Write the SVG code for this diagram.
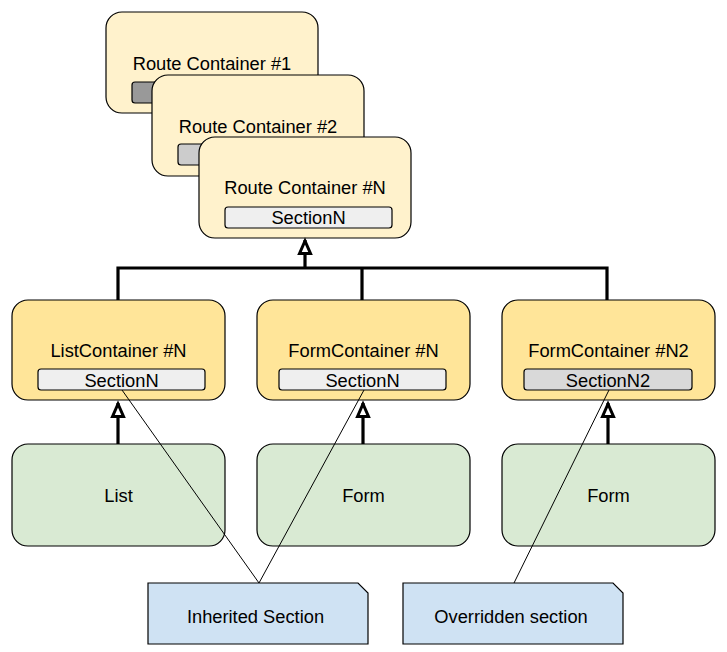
<svg xmlns="http://www.w3.org/2000/svg" width="727" height="652" viewBox="0 0 727 652">
<style>
text{font-family:"Liberation Sans",Arial,sans-serif;font-size:18.3px;fill:#000;text-anchor:middle}
.rc{fill:#fff2cc;stroke:#000;stroke-width:1.2}
.mc{fill:#ffe599;stroke:#000;stroke-width:1.2}
.gc{fill:#d9ead3;stroke:#000;stroke-width:1.2}
.sec{stroke:#000;stroke-width:1.2}
.note{fill:#cfe2f3;stroke:#000;stroke-width:1.2}
.inh{fill:none;stroke:#000;stroke-width:3.2}
.thin{fill:none;stroke:#000;stroke-width:1}
</style>
<defs>
<marker id="tri" markerUnits="userSpaceOnUse" markerWidth="22" markerHeight="18" viewBox="0 0 22 18" refX="17" refY="9" orient="auto" overflow="visible">
<path d="M3.5,3.5 L16,9 L3.5,14.5 Z" fill="#fff" stroke="#000" stroke-width="3" stroke-linejoin="miter"/>
</marker>
</defs>
<g id="route1">
<rect class="rc" x="106" y="12" width="212" height="101" rx="16"/>
<text x="212" y="70">Route Container #1</text>
<rect class="sec" x="132" y="82" width="167" height="21" rx="3" fill="#999999"/>
</g>
<g id="route2">
<rect class="rc" x="152" y="75" width="212" height="101" rx="16"/>
<text x="258" y="133">Route Container #2</text>
<rect class="sec" x="178" y="144" width="167" height="21" rx="3" fill="#cccccc"/>
</g>
<g id="routeN">
<rect class="rc" x="199" y="137" width="212" height="101" rx="16"/>
<text x="305" y="194">Route Container #N</text>
<rect class="sec" x="225" y="207" width="167" height="21" rx="3" fill="#efefef"/>
<text x="308.5" y="224">SectionN</text>
</g>
<g id="listContainer">
<rect class="mc" x="12" y="300" width="213" height="100" rx="16"/>
<text x="118.5" y="357">ListContainer #N</text>
<rect class="sec" x="38" y="369" width="167" height="21" rx="3" fill="#efefef"/>
<text x="121.5" y="387">SectionN</text>
</g>
<g id="formContainer">
<rect class="mc" x="257" y="300" width="213" height="100" rx="16"/>
<text x="363.5" y="357">FormContainer #N</text>
<rect class="sec" x="279" y="369" width="167" height="21" rx="3" fill="#efefef"/>
<text x="362.5" y="387">SectionN</text>
</g>
<g id="formContainerN2">
<rect class="mc" x="502" y="300" width="213" height="100" rx="16"/>
<text x="608.5" y="357">FormContainer #N2</text>
<rect class="sec" x="524" y="369" width="168" height="21" rx="3" fill="#d9d9d9"/>
<text x="608" y="387">SectionN2</text>
</g>
<g id="list">
<rect class="gc" x="12" y="444" width="213" height="102" rx="16"/>
<text x="118.5" y="502">List</text>
</g>
<g id="form1">
<rect class="gc" x="257" y="444" width="213" height="102" rx="16"/>
<text x="363.5" y="502">Form</text>
</g>
<g id="form2">
<rect class="gc" x="502" y="444" width="213" height="102" rx="16"/>
<text x="608.5" y="502">Form</text>
</g>
<g id="connectors">
<path class="inh" d="M118,300 V268 H607 V300 M362,300 V268"/>
<path class="inh" d="M305,268 V240" marker-end="url(#tri)"/>
<path class="inh" d="M118,444 V403" marker-end="url(#tri)"/>
<path class="inh" d="M363,444 V403" marker-end="url(#tri)"/>
<path class="inh" d="M608,444 V403" marker-end="url(#tri)"/>
<path class="thin" d="M122,390 L259,583 L364,390"/>
<path class="thin" d="M609,390 L514,583"/>
</g>
<g id="noteInherited">
<path class="note" d="M148,583 H358 L368,593 V644 H148 Z"/>
<text x="255.5" y="623">Inherited Section</text>
</g>
<g id="noteOverridden">
<path class="note" d="M403,583 H613 L623,593 V644 H403 Z"/>
<text x="511" y="623">Overridden section</text>
</g>
</svg>
